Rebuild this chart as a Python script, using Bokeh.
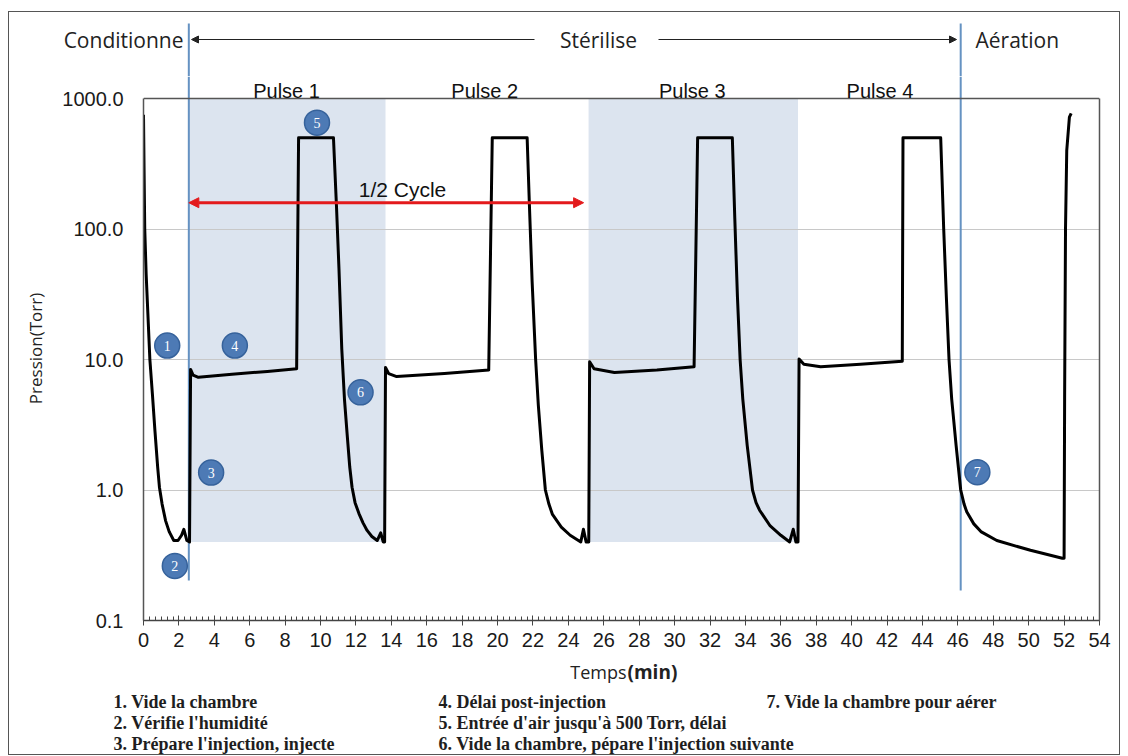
import math
from bokeh.plotting import figure
from bokeh.layouts import column
from bokeh.models import (FixedTicker, SingleIntervalTicker, Label, Arrow, NormalHead, Span, Range1d,
                          BoxAnnotation, ColumnDataSource, CustomJSTickFormatter, LinearAxis)
from bokeh.core.properties import value
from bokeh.embed import file_html
from bokeh.resources import INLINE

# ---------------- data ----------------
time_min = [
    0.0, 0.03, 0.07, 0.15, 0.25, 0.36, 0.5, 0.65, 0.8, 0.9, 1.05, 1.25, 1.45, 1.71, 1.95, 2.15, 2.28, 2.45, 2.6,
    2.66, 2.8, 3.1, 5.0, 7.0, 8.65, 8.76, 10.73, 10.9, 11.04, 11.2, 11.35, 11.5, 11.65, 11.78, 11.95, 12.17, 12.4,
    12.63, 12.9, 13.2, 13.4, 13.54, 13.62,
    13.67, 13.85, 14.3, 17.0, 19.5, 19.7, 21.67, 21.8, 21.95, 22.15, 22.3, 22.5, 22.7, 22.9, 23.1, 23.6, 24.1, 24.7,
    24.85, 25.0, 25.15,
    25.2, 25.45, 26.6, 29.0, 31.1, 31.3, 33.26, 33.4, 33.55, 33.7, 33.85, 34.1, 34.4, 34.6, 34.8, 35.4, 36.0, 36.5,
    36.7, 36.85, 36.97,
    37.03, 37.3, 38.25, 40.5, 42.86, 42.9, 45.03, 45.2, 45.35, 45.5, 45.65, 45.9, 46.16, 46.35, 46.5, 46.9, 47.3,
    48.2, 50.1, 51.9, 52.0, 52.03, 52.08, 52.15, 52.3, 52.4,
]
pressure_torr = [
    750, 300, 100, 45, 22, 10, 5.5, 2.8, 1.5, 1.05, 0.78, 0.58, 0.48, 0.41, 0.41, 0.45, 0.5, 0.41, 0.40,
    8.4, 7.6, 7.3, 7.7, 8.1, 8.5, 500, 500, 150, 50, 12, 5, 2.7, 1.5, 1.05, 0.8, 0.66, 0.56,
    0.49, 0.44, 0.41, 0.47, 0.40, 0.40,
    8.7, 7.8, 7.4, 7.8, 8.3, 500, 500, 150, 40, 10, 4.5, 2.0, 1.0, 0.78, 0.65, 0.52, 0.45, 0.40,
    0.5, 0.40, 0.40,
    9.6, 8.5, 7.95, 8.3, 8.8, 500, 500, 120, 30, 10, 5.0, 2.2, 1.0, 0.8, 0.7, 0.53, 0.45, 0.40,
    0.5, 0.40, 0.40,
    10.1, 9.2, 8.8, 9.2, 9.7, 500, 500, 100, 30, 10, 5.0, 2.2, 1.0, 0.78, 0.68, 0.55, 0.48,
    0.41, 0.345, 0.30, 0.30, 5, 100, 400, 720, 770,
]

pulse_names = ["Pulse 1", "Pulse 2", "Pulse 3", "Pulse 4"]
pulse_centers = [8.08, 19.27, 31.0, 41.6]
shaded_start = [2.56, 25.14]
shaded_end = [13.67, 36.97]
shade_floor = 0.4
phase_lines = [2.56, 46.16]
phase_names = ["Conditionne", "Stérilise", "Aération"]
half_cycle = [2.56, 24.86]
half_cycle_level = 159

step_num = ["1", "2", "3", "4", "5", "6", "7"]
step_x = [1.34, 1.77, 3.82, 5.16, 9.8, 12.26, 47.1]
step_y = [12.8, 0.262, 1.36, 12.8, 653, 5.6, 1.37]

legend_col1 = ["1. Vide la chambre", "2. Vérifie l'humidité", "3. Prépare l'injection, injecte"]
legend_col2 = ["4. Délai post-injection", "5. Entrée d'air jusqu'à 500 Torr, délai",
               "6. Vide la chambre, pépare l'injection suivante"]
legend_col3 = ["7. Vide la chambre pour aérer"]

y_ticks = [0.1, 1, 10, 100, 1000]

# ------------- layout (page pixels) -------------
W = 1110                 # inner width of the bordered box (x 9..1119)
CX0 = 9                  # canvas left in page px
FL, FR = 143, 1099       # main frame left / right (page px)
PXU = (FR - FL) / 54.0
TOP_DEC, DEC = 98.0, 130.5   # page y of 1000 Torr, px per decade
HEAD_TOP, MAIN_TOP, FRAME_BOT, MAIN_BOT, LEG_BOT = 12, 76, 620, 658, 754


def dx(px):
    return (px - FL) / PXU


def dy(py):
    return 10 ** (3 - (py - TOP_DEC) / DEC)


full_x = ((CX0 - FL) / PXU, (CX0 + W - FL) / PXU)

# ---------------- header strip ----------------
head = figure(width=W, height=MAIN_TOP - HEAD_TOP, x_range=Range1d(*full_x),
              y_range=Range1d(MAIN_TOP, HEAD_TOP), output_backend="svg", toolbar_location=None,
              x_axis_location=None, y_axis_location=None, min_border=0, frame_align=False)
head.outline_line_color = None
head.grid.grid_line_color = None
hy = 39
head.add_layout(Label(x=dx(183), y=hy, text=phase_names[0], text_align="right", text_baseline="middle",
                      text_font="Open Sans", text_font_size="21px", text_color="#222"))
head.add_layout(Label(x=dx(598), y=hy, text=phase_names[1], text_align="center", text_baseline="middle",
                      text_font="Open Sans", text_font_size="21px", text_color="#222"))
head.add_layout(Label(x=dx(975), y=hy, text=phase_names[2], text_align="left", text_baseline="middle",
                      text_font="Open Sans", text_font_size="21px", text_color="#222"))
head.add_layout(Arrow(x_start=dx(534), x_end=dx(191), y_start=hy, y_end=hy, line_color="#222", line_width=1,
                      end=NormalHead(size=7, fill_color="#222", line_color="#222")))
head.add_layout(Arrow(x_start=dx(658), x_end=dx(956), y_start=hy, y_end=hy, line_color="#222", line_width=1,
                      end=NormalHead(size=7, fill_color="#222", line_color="#222")))
head.segment(x0=phase_lines, y0=[23, 23], x1=phase_lines, y1=[MAIN_TOP, MAIN_TOP],
             line_color="#6592c2", line_width=2)

# ---------------- main chart ----------------
p = figure(width=W, height=MAIN_BOT - MAIN_TOP, x_range=(0, 54), y_range=(0.1, dy(MAIN_TOP)),
           y_axis_type="log", output_backend="svg", toolbar_location=None,
           min_border_left=FL - CX0, min_border_right=CX0 + W - FR, min_border_top=0,
           min_border_bottom=MAIN_BOT - FRAME_BOT, frame_align=False)
p.outline_line_color = None
p.background_fill_color = "white"

p.xaxis.ticker = SingleIntervalTicker(interval=2, num_minor_ticks=6)
p.xaxis.major_label_text_font = "Liberation Sans"
p.xaxis.major_label_text_font_size = "20px"
p.xaxis.major_label_text_color = "#1a1a1a"
p.xaxis.axis_line_color = "#444"
p.xaxis.axis_line_width = 1.5
p.xaxis.major_tick_line_color = "#444"
p.xaxis.minor_tick_line_color = "#444"
p.xaxis.major_tick_in = 5
p.xaxis.major_tick_out = 5
p.xaxis.minor_tick_in = 4
p.xaxis.minor_tick_out = 0
p.xaxis.major_label_standoff = 7

p.yaxis.ticker = FixedTicker(ticks=y_ticks, minor_ticks=[])
p.yaxis.bounds = (0.1, 1000)
p.yaxis.formatter = CustomJSTickFormatter(code="return tick.toFixed(1);")
p.yaxis.major_label_text_font = "Liberation Sans"
p.yaxis.major_label_text_font_size = "20px"
p.yaxis.major_label_text_color = "#1a1a1a"
p.yaxis.axis_line_color = "#555"
p.yaxis.axis_line_width = 1.5
p.yaxis.major_tick_line_color = None
p.yaxis.minor_tick_line_color = None
p.yaxis.major_tick_out = 0
p.yaxis.major_label_standoff = 20
p.yaxis.axis_label = "Pression(Torr)"
p.yaxis.axis_label_text_font = "Open Sans"
p.yaxis.axis_label_text_font_size = "17px"
p.yaxis.axis_label_text_font_style = "normal"
p.yaxis.axis_label_text_color = "#222222"
p.yaxis.axis_label_standoff = 12

right_axis = LinearAxis(ticker=FixedTicker(ticks=[]), bounds=(0.1, 1000), axis_line_color="#555",
                        axis_line_width=1.5, major_tick_line_color=None, minor_tick_line_color=None,
                        major_label_text_font_size="0px")
p.add_layout(right_axis, "right")
p.add_layout(Span(location=1000, dimension="width", line_color="#555", line_width=1.5))

p.xgrid.grid_line_color = None
p.ygrid.ticker = FixedTicker(ticks=[1, 10, 100])
p.ygrid.grid_line_color = "#c8c8c8"
p.ygrid.grid_line_width = 1

for a, b in zip(shaded_start, shaded_end):
    p.add_layout(BoxAnnotation(left=a, right=b, bottom=shade_floor, top=1000,
                               fill_color="#dce4ef", fill_alpha=1.0, line_color=None, level="image"))

p.segment(x0=phase_lines, y0=[dy(MAIN_TOP)] * 2, x1=phase_lines, y1=[dy(580), dy(590)],
          line_color="#6592c2", line_width=2)

src = ColumnDataSource(dict(t=time_min, p=pressure_torr))
p.line("t", "p", source=src, line_color="black", line_width=3, line_join="round")

red = "#e31a1c"
p.add_layout(Arrow(x_start=half_cycle[0], x_end=half_cycle[1], y_start=half_cycle_level, y_end=half_cycle_level,
                   line_color=red, line_width=3,
                   start=NormalHead(size=10, fill_color=red, line_color=red),
                   end=NormalHead(size=10, fill_color=red, line_color=red)))
p.add_layout(Label(x=dx(402), y=dy(189), text="1/2 Cycle", text_align="center", text_baseline="middle",
                   text_font="Liberation Sans", text_font_size="21px", text_color="#111"))

p.scatter(step_x, step_y, size=25, fill_color="#4d7ab5", line_color="#36629b", line_width=1.5)
p.text(step_x, step_y, text=step_num, text_align="center", text_baseline="middle",
       text_font=value("Liberation Serif"), text_font_size="14px", text_color="white")

for name, xc in zip(pulse_names, pulse_centers):
    p.add_layout(Label(x=xc, y=dy(90), text=name, text_align="center", text_baseline="middle",
                       text_font="Liberation Sans", text_font_size="20px", text_color="#111"))

# ---------------- bottom strip: axis title + numbered legend ----------------
leg = figure(width=W, height=LEG_BOT - MAIN_BOT, x_range=Range1d(*full_x),
             y_range=Range1d(LEG_BOT, MAIN_BOT), output_backend="svg", toolbar_location=None,
             x_axis_location=None, y_axis_location=None, min_border=0, frame_align=False)
leg.outline_line_color = None
leg.grid.grid_line_color = None
leg.add_layout(Label(x=dx(626), y=671, text="Temps", text_align="right", text_baseline="middle",
                     text_font="Open Sans", text_font_size="18px", text_color="#222"))
leg.add_layout(Label(x=dx(627), y=671, text="(min)", text_align="left", text_baseline="middle",
                     text_font="Open Sans", text_font_size="19px", text_font_style="bold", text_color="#222"))
rows_py = [701, 722, 743]
for col_px, items in zip([113, 438, 766], [legend_col1, legend_col2, legend_col3]):
    for txt, rpy in zip(items, rows_py):
        leg.add_layout(Label(x=dx(col_px), y=rpy, text=txt, text_align="left", text_baseline="middle",
                             text_font="Liberation Serif", text_font_size="18px",
                             text_font_style="bold", text_color="#1e1e1e"))

layout = column(head, p, leg, spacing=0,
                styles={"border": "1px solid #555", "margin-left": "8px", "margin-top": "11px"})
open("out.html", "w").write(file_html(layout, INLINE))
